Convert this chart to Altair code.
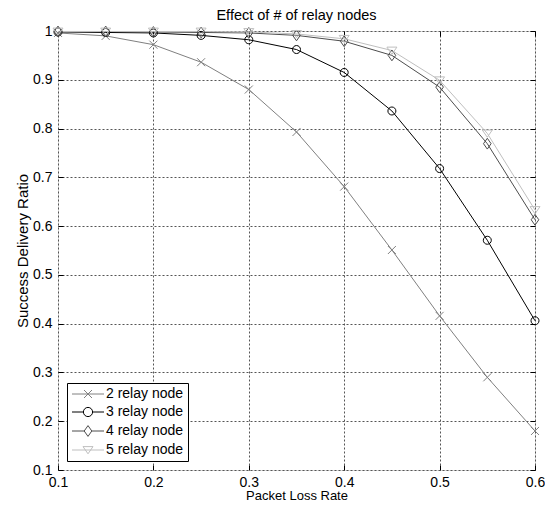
import altair as alt
import pandas as pd

loss_rate = [0.1, 0.15, 0.2, 0.25, 0.3, 0.35, 0.4, 0.45, 0.5, 0.55, 0.6]
relay2 = [0.996, 0.990, 0.972, 0.936, 0.880, 0.793, 0.681, 0.551, 0.416, 0.290, 0.180]
relay3 = [0.998, 0.997, 0.996, 0.991, 0.982, 0.962, 0.915, 0.836, 0.718, 0.571, 0.406]
relay4 = [0.999, 0.999, 0.998, 0.997, 0.996, 0.991, 0.979, 0.950, 0.885, 0.769, 0.613]
relay5 = [0.999, 0.999, 0.999, 0.999, 0.998, 0.994, 0.984, 0.960, 0.899, 0.790, 0.633]

series_names = ["2 relay node", "3 relay node", "4 relay node", "5 relay node"]
series_colors = ["#808080", "#000000", "#4d4d4d", "#bfbfbf"]
marker_paths = [
    "M-1,-1L1,1M-1,1L1,-1",
    "M1,0A1,1,0,1,1,-1,0A1,1,0,1,1,1,0Z",
    "M0,-1.35L0.95,0L0,1.35L-0.95,0Z",
    "M-1.25,-0.85L1.25,-0.85L0,0.95Z",
]
legend_paths = [
    "M-4,0H4M-1,-1L1,1M-1,1L1,-1",
    "M-4,0H-1.15M1.15,0H4M1.15,0A1.15,1.15,0,1,1,-1.15,0A1.15,1.15,0,1,1,1.15,0Z",
    "M-4,0H-0.95M0.95,0H4M0,-1.35L0.95,0L0,1.35L-0.95,0Z",
    "M-4,0H4M-1.25,-0.85L1.25,-0.85L0,0.95Z",
]
x_ticks = [0.1, 0.2, 0.3, 0.4, 0.5, 0.6]
y_ticks = [0.1, 0.2, 0.3, 0.4, 0.5, 0.6, 0.7, 0.8, 0.9, 1.0]

rows = []
for name, vals in zip(series_names, [relay2, relay3, relay4, relay5]):
    for xv, yv in zip(loss_rate, vals):
        rows.append({"rate": xv, "ratio": yv, "series": name})
df = pd.DataFrame(rows)

FONT = "Liberation Sans"
xs = alt.Scale(domain=[0.1, 0.6], nice=False, zero=False)
ys = alt.Scale(domain=[0.1, 1.0], nice=False, zero=False)
cs = alt.Scale(domain=series_names, range=series_colors)

common_axis = dict(offset=-5, tickSize=5, tickColor="black", tickWidth=1, domain=False)

x_axis = alt.Axis(values=x_ticks, format=".1f", grid=True, gridDash=[2, 2], gridColor="#555555",
                  labelFontSize=14, labelPadding=5, labelColor="black", labelFont=FONT,
                  labelFlush=False, labelOverlap=False,
                  title="Packet Loss Rate", titleFontSize=13, titleFontWeight="normal",
                  titleColor="black", titleFont=FONT, titlePadding=0, orient="bottom", **common_axis)
y_axis = alt.Axis(values=y_ticks, labelExpr="datum.value == 1 ? '1' : format(datum.value, '.1f')",
                  grid=True, gridDash=[2, 2], gridColor="#555555",
                  labelFontSize=14, labelPadding=6, labelColor="black", labelFont=FONT,
                  labelFlush=False, labelOverlap=False,
                  title="Success Delivery Ratio", titleFontSize=15, titleFontWeight="normal",
                  titleColor="black", titleFont=FONT, titlePadding=2, orient="left", **common_axis)
x_top = alt.Axis(values=x_ticks, labels=False, grid=False, title=None, orient="top", **common_axis)
y_right = alt.Axis(values=y_ticks, labels=False, grid=False, title=None, orient="right", **common_axis)

base = alt.Chart(df)

lines = base.mark_line(strokeWidth=1).encode(
    x=alt.X("rate:Q", scale=xs, axis=x_axis),
    y=alt.Y("ratio:Q", scale=ys, axis=y_axis),
    color=alt.Color("series:N", scale=cs, legend=None),
)

points = base.mark_point(filled=False, size=64, strokeWidth=1, opacity=1).encode(
    x=alt.X("rate:Q", scale=xs, axis=None),
    y=alt.Y("ratio:Q", scale=ys, axis=None),
    color=alt.Color("series:N", scale=cs, legend=None),
    shape=alt.Shape("series:N", scale=alt.Scale(domain=series_names, range=marker_paths), legend=None),
)

leg = dict(title=None, orient="bottom-left", offset=9, strokeColor="black", fillColor="white",
           padding=4, symbolSize=64, symbolStrokeWidth=1, symbolOffset=10, labelOffset=11,
           labelFontSize=14, labelFont=FONT, labelColor="black", rowPadding=4, labelLimit=300)

legend_layer = base.transform_filter("false").mark_point(filled=False, size=64, strokeWidth=1, opacity=1).encode(
    x=alt.X("rate:Q", scale=xs, axis=x_top),
    y=alt.Y("ratio:Q", scale=ys, axis=y_right),
    color=alt.Color("series:N", scale=cs, legend=alt.Legend(**leg)),
    shape=alt.Shape("series:N", scale=alt.Scale(domain=series_names, range=legend_paths),
                    legend=alt.Legend(**leg)),
)

chart = alt.layer(lines, points, legend_layer).resolve_scale(
    color="independent", shape="independent"
).resolve_axis(x="independent", y="independent").properties(
    width=477, height=439,
    title=alt.TitleParams("Effect of # of relay nodes", fontSize=14.5, fontWeight="normal",
                          font=FONT, color="black", offset=10, dy=9, anchor="middle"),
    padding={"left": 50, "top": 23, "right": 10, "bottom": 31},
    autosize=alt.AutoSizeParams(type="none"),
).configure_view(stroke="black", strokeWidth=1.5).configure(font=FONT, background="white")

chart.save("out.html", embed_options={"renderer": "svg", "actions": False})
